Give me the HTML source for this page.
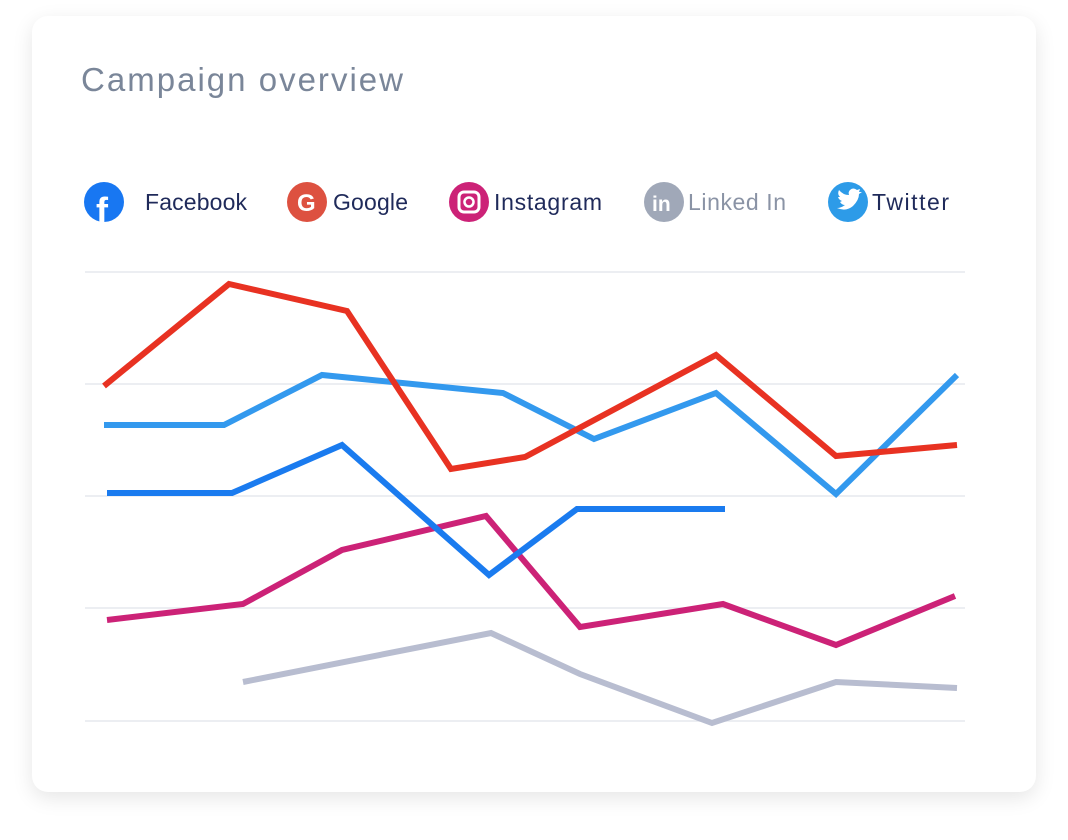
<!DOCTYPE html>
<html><head><style>
body{margin:0;width:1068px;height:840px;background:#fff;font-family:"Liberation Sans",sans-serif;overflow:hidden}
.card{position:absolute;left:32px;top:16px;width:1004px;height:776px;border-radius:16px;background:#fff;box-shadow:0 6px 20px rgba(0,0,0,0.10)}
</style></head><body>
<div class="card"></div>
<svg width="1068" height="840" style="position:absolute;left:0;top:0">
<text x="81" y="91" font-size="33" fill="#7a8699" textLength="322" lengthAdjust="spacing" font-family="Liberation Sans, sans-serif">Campaign overview</text>
<g font-size="23" fill="#1f2a5a" font-family="Liberation Sans, sans-serif">
<circle cx="104" cy="202" r="20" fill="#1877f2"/>
<text x="96" y="223" font-size="36" font-weight="bold" fill="#fff">f</text>
<text x="145" y="210" textLength="102" lengthAdjust="spacing">Facebook</text>
<circle cx="307" cy="202" r="20" fill="#dd5140"/>
<text x="297" y="211" font-size="24" font-weight="bold" fill="#fff">G</text>
<text x="333" y="210" textLength="75" lengthAdjust="spacing">Google</text>
<circle cx="469" cy="202" r="20" fill="#cc2277"/>
<rect x="459" y="192" width="20" height="20" rx="5" fill="none" stroke="#fff" stroke-width="3"/>
<circle cx="469" cy="202" r="4.5" fill="none" stroke="#fff" stroke-width="2.5"/>
<text x="494" y="210" textLength="108" lengthAdjust="spacing">Instagram</text>
<circle cx="664" cy="202" r="20" fill="#a0a8b8"/>
<text x="652" y="211" font-size="21" font-weight="bold" fill="#fff">in</text>
<text x="688" y="210" fill="#8a93a5" textLength="98" lengthAdjust="spacing">Linked In</text>
<circle cx="848" cy="202" r="20" fill="#2d9be8"/>
<path d="M837 208 Q846 212 853 206 Q859 200 859 194 L862 192 L859 192 L860 189 L857 190 Q853 187 850 190 Q848 192 849 195 Q843 195 839 190 Q837 194 840 197 L838 197 Q839 200 842 201 L840 202 Q842 205 845 205 Q841 208 837 208Z" fill="#fff"/>
<text x="872" y="210" textLength="77" lengthAdjust="spacing">Twitter</text>
</g>
<g stroke="#e6e8ee" stroke-width="1.5">
<line x1="85" x2="965" y1="272" y2="272"/><line x1="85" x2="965" y1="384" y2="384"/>
<line x1="85" x2="965" y1="496" y2="496"/><line x1="85" x2="965" y1="608" y2="608"/>
<line x1="85" x2="965" y1="721" y2="721"/>
</g>
<g fill="none" stroke-width="6" stroke-linejoin="miter">
<polyline stroke="#b8bdd0" points="243,682 491,633 580,674 712,723 836,682 957,688"/>
<polyline stroke="#cc2277" points="107,620 243,604 342,550 486,516 580,627 723,604 836,645 955,596"/>
<polyline stroke="#1a7bef" points="107,493 232,493 342,445 489,575 577,509 725,509"/>
<polyline stroke="#3399ee" points="104,425 224,425 322,375 503,393 594,439 716,393 836,494 957,375"/>
<polyline stroke="#e83222" points="104,386 229,284 347,311 451,469 525,457 716,355 836,456 957,445"/>
</g>
</svg>
</body></html>
